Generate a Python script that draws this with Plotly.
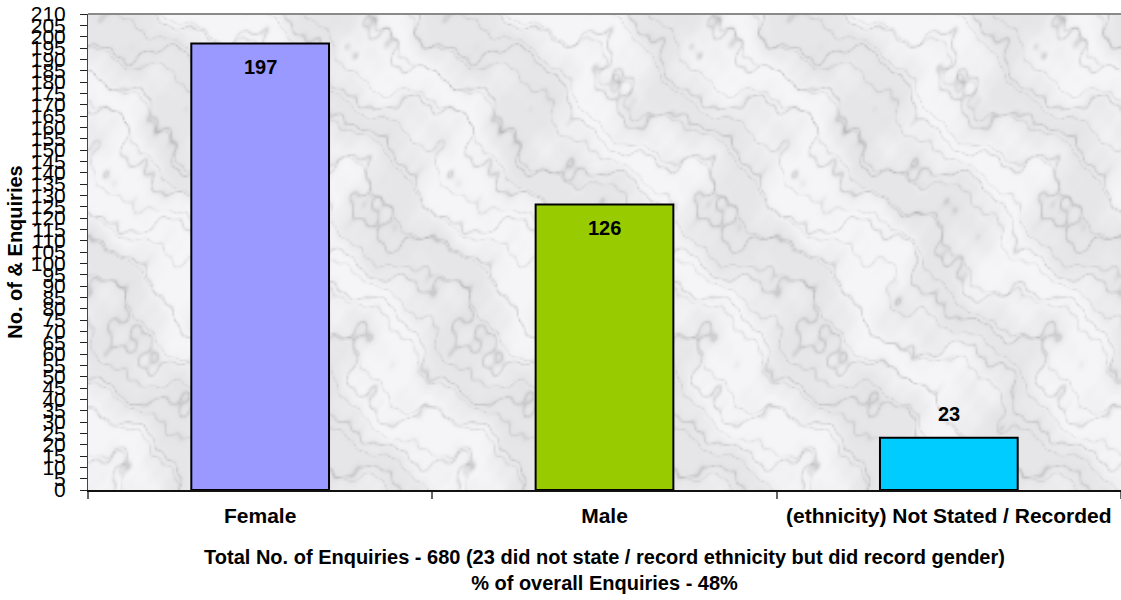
import base64
import struct
import zlib

import numpy as np
import plotly.graph_objects as go

categories = ["Female", "Male", "(ethnicity) Not Stated / Recorded"]
values = [197, 126, 23]
bar_colors = ["#9999FF", "#99CC00", "#00CCFF"]
label_shift = [-24, -24, 24]
y_ticks = list(range(0, 215, 5))

FONT = "Liberation Sans, Arial, sans-serif"


def marble_png(w=540, h=248):
    # deterministic, seamless marble-like texture (decoration only)
    x = np.linspace(0, 1, w, endpoint=False)[None, :]
    y = np.linspace(0, 1, h)[:, None]
    u = 2 * np.pi * ((x * 3.0) % 1.0)
    yy = 2 * np.pi * y * 1.38
    turb = (0.5 * np.sin(1 * u + 2.0 * yy + 0.7)
            + 0.3 * np.sin(3 * u - 2.3 * yy + 2.1)
            + 0.2 * np.sin(5 * u + 4.1 * yy + 0.4)
            + 0.12 * np.sin(9 * u - 7.3 * yy + 1.3)
            + 0.07 * np.sin(17 * u + 13.1 * yy + 2.7))
    v = np.sin(2 * u - 3.0 * yy + 2.4 * turb)
    vein = (1.0 - np.abs(v)) ** 9
    v2 = np.sin(3 * u - 4.0 * yy + 2.0 * turb + 1.0)
    vein2 = (1.0 - np.abs(v2)) ** 12
    blotch = 0.5 + 0.5 * np.sin(2 * u - 1.0 * yy + 1.8 * turb)
    g = 246.0 - 32.0 * vein - 22.0 * vein2 - 16.0 * blotch
    g = np.clip(g, 0, 255)
    r = g.astype(np.uint8)
    b = np.clip(g + 3, 0, 255).astype(np.uint8)
    img = np.stack([r, r, b], axis=-1)
    raw = b"".join(b"\x00" + img[i].tobytes() for i in range(h))

    def chunk(tag, data):
        c = struct.pack(">I", len(data)) + tag + data
        return c + struct.pack(">I", zlib.crc32(tag + data) & 0xFFFFFFFF)

    png = (b"\x89PNG\r\n\x1a\n"
           + chunk(b"IHDR", struct.pack(">IIBBBBB", w, h, 8, 2, 0, 0, 0))
           + chunk(b"IDAT", zlib.compress(raw, 9))
           + chunk(b"IEND", b""))
    return "data:image/png;base64," + base64.b64encode(png).decode()


fig = go.Figure()
fig.add_trace(go.Bar(
    x=categories, y=values,
    marker=dict(color=bar_colors, line=dict(color="#000000", width=2)),
    width=0.4, hoverinfo="skip",
))

for c, v, s in zip(categories, values, label_shift):
    fig.add_annotation(x=c, y=v, text=f"<b>{v}</b>", showarrow=False,
                       yshift=s, yanchor="middle",
                       font=dict(family=FONT, size=20, color="#000000"))

fig.add_layout_image(source=marble_png(), xref="paper", yref="paper",
                     x=0, y=1, sizex=1, sizey=1, xanchor="left", yanchor="top",
                     sizing="stretch", layer="below")

fig.add_shape(type="line", xref="paper", yref="paper", x0=0, x1=1, y0=1, y1=1,
              line=dict(color="#8a8a8a", width=2), layer="above")

fig.update_layout(
    width=1121, height=600,
    margin=dict(l=88, r=0, t=14, b=110),
    paper_bgcolor="#FFFFFF",
    plot_bgcolor="rgba(0,0,0,0)",
    showlegend=False,
    font=dict(family=FONT, color="#000000"),
    xaxis=dict(
        type="category", automargin=False,
        tickson="boundaries", ticks="outside", ticklen=7, tickcolor="#666666", tickwidth=2,
        ticklabelstandoff=6,
        showline=True, linecolor="#111111", linewidth=2,
        showgrid=False,
        tickfont=dict(family=FONT, size=21, color="#000000", weight="bold"),
        title=dict(text="Total No. of Enquiries - 680 (23 did not state / record ethnicity but did record gender)<br>% of overall Enquiries - 48%",
                   font=dict(family=FONT, size=20, color="#000000", weight="bold"), standoff=24),
    ),
    yaxis=dict(
        range=[0, 210], automargin=False,
        tickmode="array", tickvals=y_ticks, ticktext=[str(t) for t in y_ticks],
        ticks="outside", ticklen=7, tickcolor="#222222", tickwidth=1,
        ticklabelstandoff=10,
        showline=True, linecolor="#444444", linewidth=1,
        showgrid=False, zeroline=False,
        tickfont=dict(family=FONT, size=21, color="#000000"),
        title=dict(text="No. of & Enquiries", font=dict(family=FONT, size=20, color="#000000", weight="bold"), standoff=2),
    ),
)

fig.write_html("out.html", config={"displayModeBar": False},
               post_script="document.body.style.margin='0';")
